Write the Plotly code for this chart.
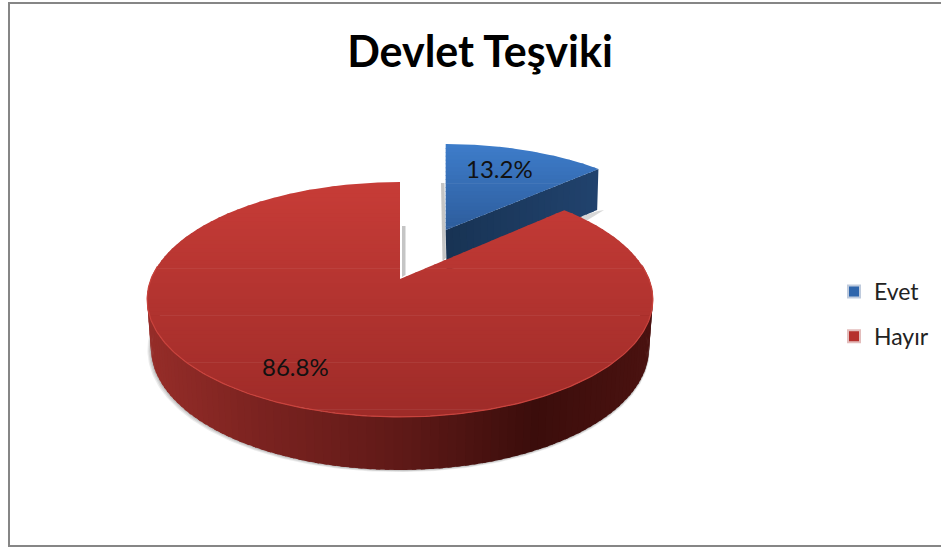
import math
import plotly.graph_objects as go

# ---- data ----
labels = ["Evet", "Hayır"]
values = [13.2, 86.8]
title_text = "Devlet Teşviki"

# ---- styles / projection ----
BLUE_TOP = ("#3E7DCB", "#2D5C9B")
RED_TOP = ("#C73C37", "#9E2B28")
BLUE_CUT = [(445, "#183354"), (600, "#21436E")]
RED_WALL = [(146, "#962D29"), (250, "#7C2320"), (400, "#5E1917"), (530, "#3B0D0B"), (650, "#4A1210")]
CX, CY, BX, AY, K = 400.0, 279.0, 249.0, 113.9, 0.1745
EXPLODE = 0.485
BLUE_SX, BLUE_SY = 0.93, 0.887


def project(x, y):
    d = 1 + K * y
    return CX + BX * x / d, CY - AY * y / d


def drop(x, y):
    px, py = project(x, y)
    return CX + (px - CX) * 0.985, py + 47.5 - 5.5 * y


def hex_rgb(c):
    return tuple(int(c[i:i + 2], 16) for i in (1, 3, 5))


def mix(c1, c2, t):
    a, b = hex_rgb(c1), hex_rgb(c2)
    return "rgb(%d,%d,%d)" % tuple(round(a[i] + (b[i] - a[i]) * t) for i in range(3))


def stops_color(stops, v):
    if v <= stops[0][0]:
        return stops[0][1]
    for (v1, c1), (v2, c2) in zip(stops, stops[1:]):
        if v <= v2:
            return mix(c1, c2, (v - v1) / (v2 - v1))
    return stops[-1][1]


def clip(poly, y0, keep_below):
    out = []
    inside = (lambda p: p[1] >= y0) if keep_below else (lambda p: p[1] <= y0)
    for i, p in enumerate(poly):
        q = poly[(i + 1) % len(poly)]
        if inside(p):
            out.append(p)
        if inside(p) != inside(q):
            t = (y0 - p[1]) / (q[1] - p[1])
            out.append((p[0] + (q[0] - p[0]) * t, y0))
    return out


def poly_trace(poly, color):
    xs = [p[0] for p in poly] + [poly[0][0]]
    ys = [p[1] for p in poly] + [poly[0][1]]
    return go.Scatter(
        x=xs, y=ys, mode="lines", fill="toself", fillcolor=color,
        line=dict(color="rgba(0,0,0,0)", width=0),
        hoverinfo="skip", showlegend=False,
    )


def gradient_face(poly, c_top, c_bottom, y_top, y_bottom, bands=36):
    res = []
    ymin, ymax = min(p[1] for p in poly), max(p[1] for p in poly)
    for b in range(bands):
        y1 = ymin + (ymax - ymin) * b / bands
        y2 = ymin + (ymax - ymin) * (b + 1) / bands
        part = clip(clip(poly, y1, True), y2 + 0.7 if b < bands - 1 else y2, False)
        if len(part) >= 3:
            t = min(1, max(0, ((y1 + y2) / 2 - y_top) / (y_bottom - y_top)))
            res.append(poly_trace(part, mix(c_top, c_bottom, t)))
    return res


# slice angles from the values, clockwise from 12 o'clock
total = sum(values)
sweep = values[0] / total * 2 * math.pi
mid = sweep / 2
ox, oy = EXPLODE * math.sin(mid), EXPLODE * math.cos(mid)
ax, ay = project(ox, oy)
ax += 0.5
ay -= 2.0


def arc(a0, a1, n=160):
    return [(math.sin(a0 + (a1 - a0) * i / n), math.cos(a0 + (a1 - a0) * i / n)) for i in range(n + 1)]


def project_blue(lx, ly):
    d = 1 + K * ly
    return ax + BLUE_SX * BX * lx / d, ay - BLUE_SY * AY * ly / d


def drop_blue(lx, ly):
    px, py = project_blue(lx, ly)
    return ax + 1 + (px - ax) * 0.985, py + 41


traces = []

# soft shadows
for pts, col in (
    ([(441, 183), (444.5, 183), (446, 258), (442.5, 261)], "rgba(150,150,150,0.55)"),
    ([(402, 226), (405.5, 226), (405.5, 275), (402, 277)], "rgba(150,150,150,0.55)"),
    ([(572, 219), (598, 211), (604, 210), (586, 221)], "rgba(190,190,190,0.6)"),
):
    traces.append(poly_trace(pts, col))

# exploded slice: visible cut wall, then top face
rim_b = arc(0, sweep)
end_b = rim_b[-1]
N = 24
for i in range(N):
    a = (end_b[0] * i / N, end_b[1] * i / N)
    b = (end_b[0] * min(1, (i + 1.4) / N), end_b[1] * min(1, (i + 1.4) / N))
    quad = [project_blue(*a), project_blue(*b), drop_blue(*b), drop_blue(*a)]
    traces.append(poly_trace(quad, stops_color(BLUE_CUT, quad[0][0])))
blue_face = [project_blue(0, 0)] + [project_blue(*p) for p in rim_b]
traces += gradient_face(blue_face, BLUE_TOP[0], BLUE_TOP[1], 143, 232, bands=22)

# large slice: soft shadow under the wall, wall strips, top face
rim_r = arc(sweep, 2 * math.pi, n=360)
front = sorted([p for p in rim_r if p[1] < 0.12], key=lambda p: math.atan2(p[0], -p[1]))
for off, alpha in ((3.5, 0.14), (2.4, 0.18), (1.2, 0.22)):
    outline = [project(*p) for p in front] + [
        (drop(*p)[0] - off * (1 if p[0] < 0 else -0.2), drop(*p)[1] + off * 0.6) for p in reversed(front)
    ]
    traces.append(poly_trace(outline, "rgba(120,120,120,%.2f)" % alpha))

step = 2
for i in range(0, len(front) - 1, step):
    p, q = front[i], front[min(i + step + 1, len(front) - 1)]
    quad = [project(*p), project(*q), drop(*q), drop(*p)]
    traces.append(poly_trace(quad, stops_color(RED_WALL, quad[0][0])))

red_face = [project(0, 0)] + [project(*p) for p in rim_r]
traces += gradient_face(red_face, RED_TOP[0], RED_TOP[1], 182, 417, bands=60)

# light rim on the front edge of the top face
hl = [project(*p) for p in front]
traces.append(go.Scatter(x=[p[0] for p in hl], y=[p[1] for p in hl], mode="lines",
                         line=dict(color="#C9433D", width=1.2), hoverinfo="skip", showlegend=False))

# legend entries
legend_colors = ["#2F66AC", "#B5302D"]
legend_edges = ["#BFCBDD", "#E3BDBC"]
for name, col, edge in zip(labels, legend_colors, legend_edges):
    traces.append(go.Scatter(x=[None], y=[None], mode="markers", name=name, legendgroup=name,
                             marker=dict(symbol="square", size=13, color=col, line=dict(color=edge, width=1))))

fig = go.Figure(traces)
annots = [
    dict(x=499, y=168, text=f"{values[0]:.1f}%"),
    dict(x=295, y=366, text=f"{values[1]:.1f}%"),
]
fig.update_layout(
    width=941, height=548, margin=dict(l=0, r=0, t=0, b=0),
    paper_bgcolor="white", plot_bgcolor="white",
    xaxis=dict(range=[0, 941], visible=False, fixedrange=True),
    yaxis=dict(range=[548, 0], visible=False, fixedrange=True),
    title=dict(text=f"<b>{title_text}</b>", x=480 / 941, xanchor="center", y=1 - 52 / 548, yanchor="middle",
               font=dict(family="Lato", size=43, color="black")),
    legend=dict(x=834 / 941, y=1 - 270 / 548, xanchor="left", yanchor="top", tracegroupgap=12,
                font=dict(family="Lato", size=23, color="#222222"), bgcolor="rgba(0,0,0,0)", itemsizing="constant"),
    shapes=[dict(type="rect", xref="paper", yref="paper", x0=9 / 941, x1=950 / 941, y0=1 - 546 / 548, y1=1 - 3 / 548,
                 line=dict(color="#868686", width=2), layer="below")],
    annotations=[dict(a, xref="x", yref="y", showarrow=False, xanchor="center", yanchor="middle",
                      font=dict(family="Lato", size=24, color="#111111")) for a in annots],
)
fig.write_html("out.html", config=dict(displayModeBar=False),
               post_script="document.body.style.margin='0';document.body.style.overflow='hidden';")
